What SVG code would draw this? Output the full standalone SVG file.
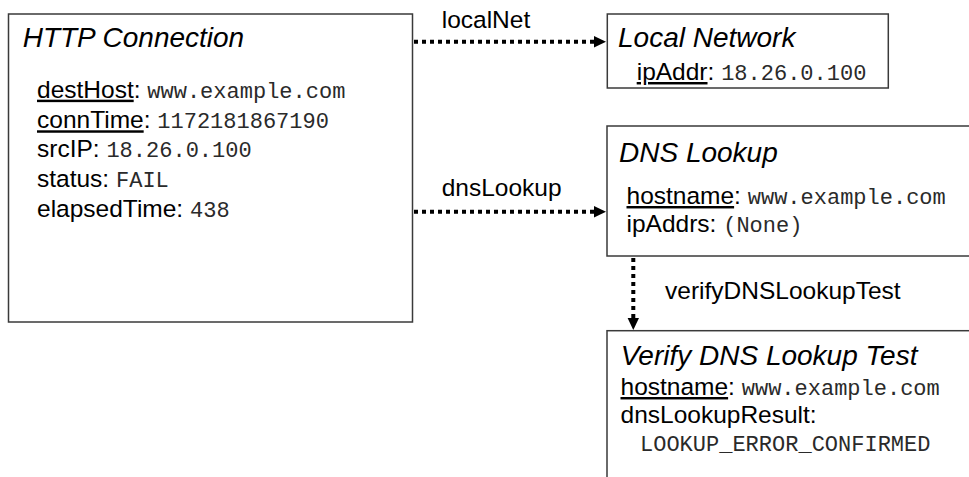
<svg xmlns="http://www.w3.org/2000/svg" width="969" height="477" viewBox="0 0 969 477">
  <style>
    .box { fill: #ffffff; stroke: #3a3a3a; stroke-width: 1.5; }
    .title { font-family: "Liberation Sans", Arial, sans-serif; font-style: italic; font-size: 28px; fill: #000; }
    .attr { font-family: "Liberation Sans", Arial, sans-serif; font-size: 24.5px; fill: #000; }
    .key { text-decoration: underline; }
    .val { font-family: "Liberation Mono", "Courier New", monospace; font-size: 22px; fill: #2a2a2a; }
    .label { font-family: "Liberation Sans", Arial, sans-serif; font-size: 24.5px; fill: #000; }
    .edge { fill: none; stroke: #000; stroke-width: 4; stroke-dasharray: 4 4; }
  </style>
  <rect width="969" height="477" fill="#ffffff"/>

  <!-- connectors -->
  <g id="edges">
    <g id="edge-localNet">
      <line class="edge" x1="414" y1="41.7" x2="595" y2="41.7"/>
      <path d="M594,36 L606,41.7 L594,47.4 Z" fill="#000"/>
      <text class="label" x="441.7" y="28.3">localNet</text>
    </g>
    <g id="edge-dnsLookup">
      <line class="edge" x1="414" y1="211.7" x2="595" y2="211.7"/>
      <path d="M594,206 L606,211.7 L594,217.4 Z" fill="#000"/>
      <text class="label" x="441.7" y="195.5">dnsLookup</text>
    </g>
    <g id="edge-verifyDNSLookupTest">
      <line class="edge" x1="633.3" y1="258" x2="633.3" y2="318"/>
      <path d="M627.6,318 L633.3,330 L639,318 Z" fill="#000"/>
      <text class="label" x="665" y="299.3">verifyDNSLookupTest</text>
    </g>
  </g>

  <!-- HTTP Connection -->
  <g id="node-http">
    <rect class="box" x="8.5" y="14" width="404" height="308"/>
    <text class="title" x="22.7" y="47.3">HTTP Connection</text>
    <text class="attr" x="37" y="97.7"><tspan class="key">destHost</tspan>: <tspan class="val">www.example.com</tspan></text>
    <text class="attr" x="37" y="128.3"><tspan class="key">connTime</tspan>: <tspan class="val">1172181867190</tspan></text>
    <text class="attr" x="37" y="157.3">srcIP: <tspan class="val">18.26.0.100</tspan></text>
    <text class="attr" x="37" y="186.7">status: <tspan class="val">FAIL</tspan></text>
    <text class="attr" x="37" y="216.7">elapsedTime: <tspan class="val">438</tspan></text>
  </g>

  <!-- Local Network -->
  <g id="node-localnet">
    <rect class="box" x="607.3" y="14" width="281" height="74"/>
    <text class="title" x="618" y="46.7">Local Network</text>
    <text class="attr" x="636.7" y="80"><tspan class="key">ipAddr</tspan>: <tspan class="val">18.26.0.100</tspan></text>
  </g>

  <!-- DNS Lookup -->
  <g id="node-dns">
    <rect class="box" x="607" y="126" width="380" height="130"/>
    <text class="title" x="619" y="162">DNS Lookup</text>
    <text class="attr" x="626.5" y="204"><tspan class="key">hostname</tspan>: <tspan class="val">www.example.com</tspan></text>
    <text class="attr" x="626.5" y="232">ipAddrs: <tspan class="val">(None)</tspan></text>
  </g>

  <!-- Verify DNS Lookup Test -->
  <g id="node-verify">
    <rect class="box" x="607" y="330.7" width="380" height="170"/>
    <text class="title" x="620.7" y="364.5">Verify DNS Lookup Test</text>
    <text class="attr" x="620.5" y="395"><tspan class="key">hostname</tspan>: <tspan class="val">www.example.com</tspan></text>
    <text class="attr" x="620.5" y="422.5">dnsLookupResult:</text>
    <text class="attr" x="640" y="451"><tspan class="val" font-size="22.5">LOOKUP_ERROR_CONFIRMED</tspan></text>
  </g>
</svg>
